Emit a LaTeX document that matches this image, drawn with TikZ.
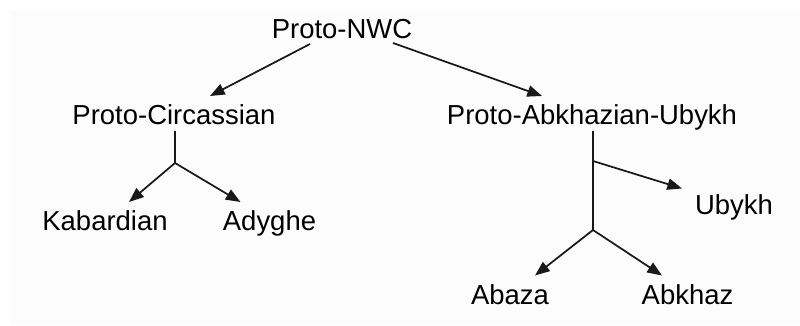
\documentclass[tikz,border=0pt]{standalone}
\usepackage{fontspec}
\setmainfont{Liberation Sans}
\usepackage{tikz}
\usetikzlibrary{arrows.meta,calc}

\begin{document}
\begin{tikzpicture}[x=0.75pt,y=0.75pt,yscale=-1,xscale=1,
  lang/.style={anchor=base,inner sep=0.75pt,font=\fontsize{20.6}{24}\selectfont},
  branch/.style={line width=1.3pt,color={rgb, 255:red, 25; green, 25; blue, 25 }},
  arr/.style={branch,-{Triangle[length=11pt,width=8.5pt]}}]
\useasboundingbox (0,0) rectangle (800,325);
%Background
\fill [color={rgb, 255:red, 251; green, 252; blue, 251 }] (10,10) rectangle (800,325);

% Text Node
\node [lang] (nwc) at (342,38) {Proto-NWC};
% Text Node
\node [lang] (pcirc) at (174,124) {Proto-Circassian};
% Text Node
\node [lang] (pabu) at (592,124) {Proto-Abkhazian-Ubykh};
% Text Node
\node [lang] (kab) at (105,230) {Kabardian};
% Text Node
\node [lang] (ady) at (269.5,230) {Adyghe};
% Text Node
\node [lang] (uby) at (734,214) {Ubykh};
% Text Node
\node [lang] (abaza) at (510,304) {Abaza};
% Text Node
\node [lang] (abkhaz) at (687.5,304) {Abkhaz};

%branch points
\coordinate (cjn) at (175,163);
\coordinate (ujn) at (593,161);
\coordinate (ajn) at (593,230);

%Straight Lines
\draw [arr] ($(nwc.base)+(-32,6)$) -- ($(pcirc.base)+(36,-28)$);
\draw [arr] ($(nwc.base)+(51,5)$) -- ($(pabu.base)+(-50,-28)$);
%Straight Lines
\draw [branch] ($(pcirc.base)+(1,7)$) -- (cjn);
\draw [arr] (cjn) -- ($(kab.base)+(24,-28)$);
\draw [arr] (cjn) -- ($(ady.base)+(-29,-28)$);
%Straight Lines
\draw [branch] ($(pabu.base)+(1,7)$) -- (ajn);
\draw [arr] (ujn) -- ($(uby.base)+(-52,-25.5)$);
\draw [arr] (ajn) -- ($(abaza.base)+(25,-28.5)$);
\draw [arr] (ajn) -- ($(abkhaz.base)+(-25.5,-28.5)$);
\end{tikzpicture}
\end{document}
